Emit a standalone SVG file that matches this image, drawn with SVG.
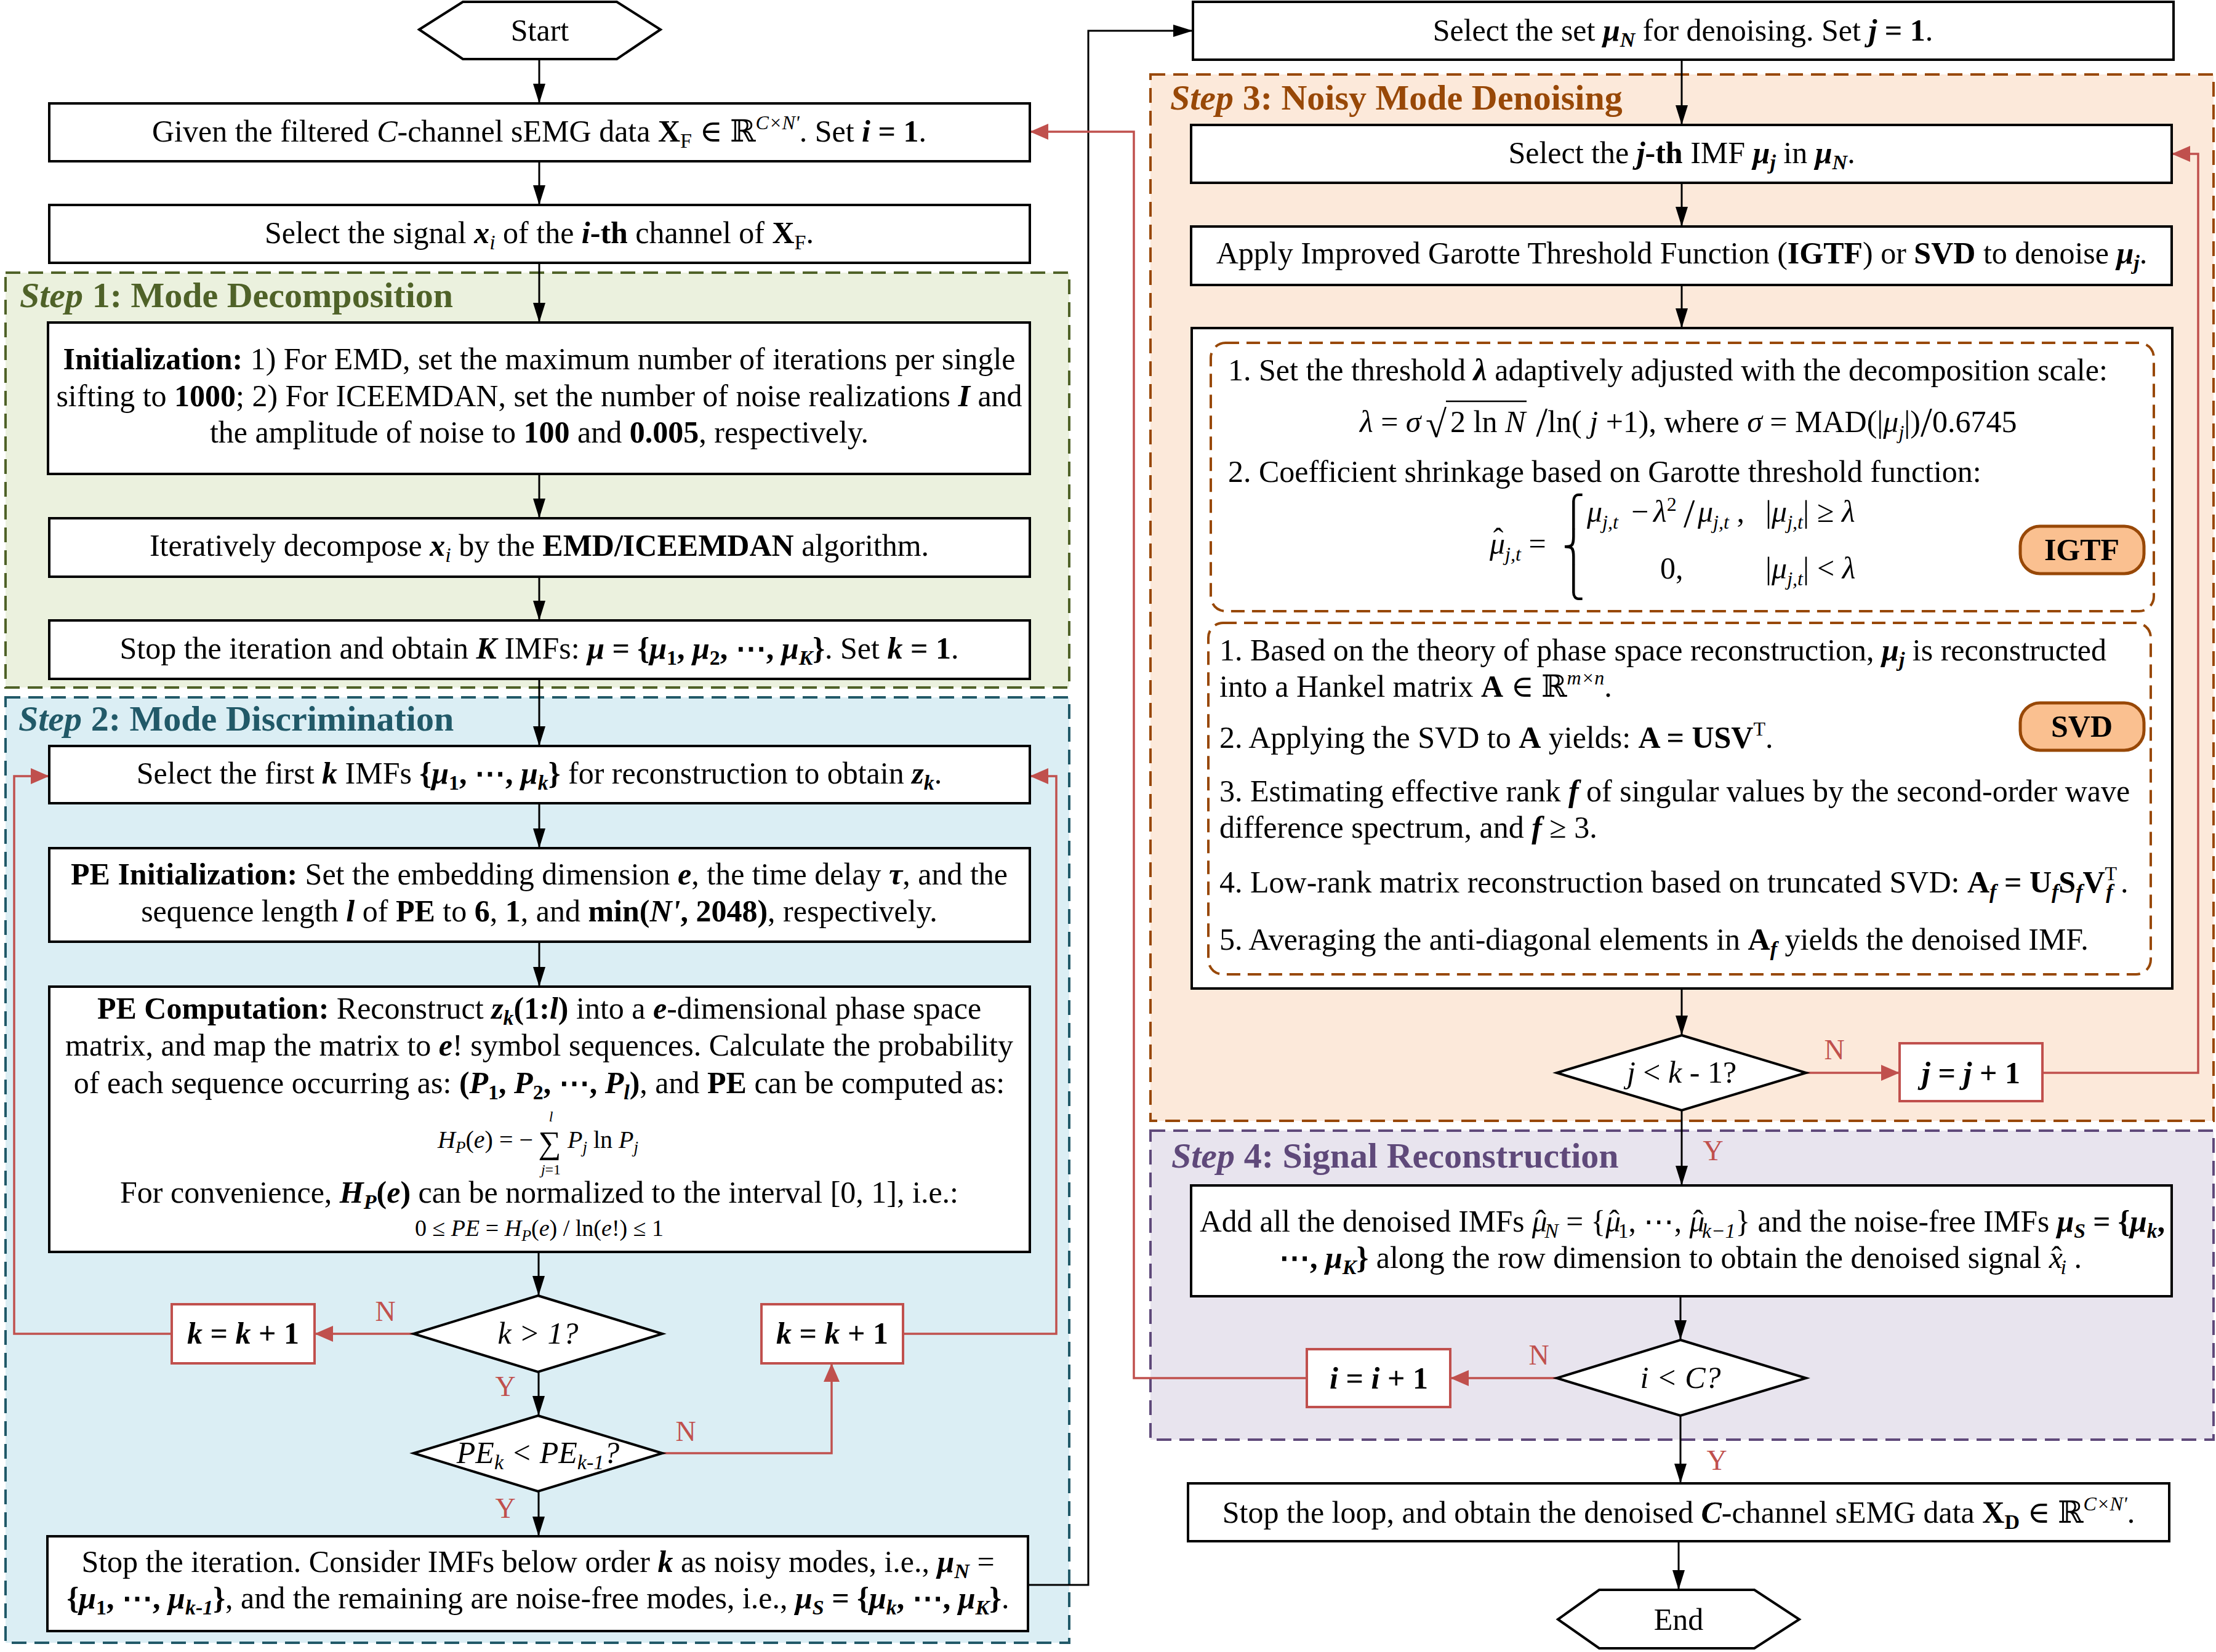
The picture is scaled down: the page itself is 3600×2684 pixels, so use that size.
<svg xmlns="http://www.w3.org/2000/svg" width="3600" height="2684" viewBox="0 0 3600 2684">
<defs>
<style>
.t{font-family:"Liberation Serif","Times New Roman","DejaVu Serif",serif;font-size:50px;fill:#000}
.m{text-anchor:middle}
.e{text-anchor:end}
.b{font-weight:bold}
.i{font-style:italic}
.sb{font-size:34px;baseline-shift:-10px}
.sp{font-size:32px;baseline-shift:20px}
.ms{font-size:32px;baseline-shift:-11px;font-style:italic}
.hd{font-size:58px;font-weight:bold}
.br{font-family:"DejaVu Sans",sans-serif;font-size:49px;fill:#000}
.box{fill:#fff;stroke:#000;stroke-width:4}
.rbox{fill:#fff;stroke:#C0504D;stroke-width:4}
.conn{fill:none;stroke:#000;stroke-width:3}
.rconn{fill:none;stroke:#C0504D;stroke-width:3.5}
.lab{font-size:46px;fill:#C0504D}
.dash{fill:#fff;stroke:#984807;stroke-width:4;stroke-dasharray:22 12}
.badge{fill:#FAC090;stroke:#984807;stroke-width:5}
</style>
<marker id="ab" markerUnits="userSpaceOnUse" markerWidth="34" markerHeight="22" refX="32" refY="10" orient="auto">
<path d="M0,0 L32,10 L0,20 z" fill="#000"/>
</marker>
<marker id="ar" markerUnits="userSpaceOnUse" markerWidth="32" markerHeight="28" refX="30" refY="13" orient="auto">
<path d="M0,0 L30,13 L0,26 z" fill="#C0504D"/>
</marker>
</defs>
<rect width="3600" height="2684" fill="#fff"/>

<g id="panels">
<g id="step1">
<rect x="9" y="443" width="1728" height="674" fill="#EBF1DE" stroke="#4F6228" stroke-width="4" stroke-dasharray="24 13"/>
<text class="t hd" x="32" y="499" style="fill:#4F6228"><tspan class="i">Step</tspan> 1: Mode Decomposition</text>
</g>
<g id="step2">
<rect x="9" y="1133" width="1728" height="1536" fill="#DBEEF4" stroke="#215968" stroke-width="4" stroke-dasharray="24 13"/>
<text class="t hd" x="30" y="1187" style="fill:#215968"><tspan class="i">Step</tspan> 2: Mode Discrimination</text>
</g>
<g id="step3">
<rect x="1869" y="121" width="1727" height="1700" fill="#FCE9DA" stroke="#984807" stroke-width="4" stroke-dasharray="24 13"/>
<text class="t hd" x="1901" y="178" style="fill:#984807"><tspan class="i">Step</tspan> 3: Noisy Mode Denoising</text>
</g>
<g id="step4">
<rect x="1869" y="1837" width="1727" height="502" fill="#E8E4EE" stroke="#5F497A" stroke-width="4" stroke-dasharray="24 13"/>
<text class="t hd" x="1903" y="1897" style="fill:#5F497A"><tspan class="i">Step</tspan> 4: Signal Reconstruction</text>
</g>
</g>

<g id="connectors">
<path class="conn" marker-end="url(#ab)" d="M876,96 V168"/>
<path class="conn" marker-end="url(#ab)" d="M876,262 V333"/>
<path class="conn" marker-end="url(#ab)" d="M876,427 V524"/>
<path class="conn" marker-end="url(#ab)" d="M876,770 V842"/>
<path class="conn" marker-end="url(#ab)" d="M876,937 V1008"/>
<path class="conn" marker-end="url(#ab)" d="M876,1103 V1212"/>
<path class="conn" marker-end="url(#ab)" d="M876,1305 V1378"/>
<path class="conn" marker-end="url(#ab)" d="M876,1530 V1603"/>
<path class="conn" marker-end="url(#ab)" d="M875,2034 V2105"/>
<path class="conn" marker-end="url(#ab)" d="M875,2229 V2300"/>
<path class="conn" marker-end="url(#ab)" d="M875,2423 V2496"/>
<path class="conn" stroke-width="4" marker-end="url(#ab)" d="M1670,2575 H1768 V50 H1938"/>
<path class="conn" marker-end="url(#ab)" d="M2732,97 V203"/>
<path class="conn" marker-end="url(#ab)" d="M2732,297 V368"/>
<path class="conn" marker-end="url(#ab)" d="M2732,463 V533"/>
<path class="conn" marker-end="url(#ab)" d="M2732,1606 V1682"/>
<path class="conn" marker-end="url(#ab)" d="M2732,1804 V1926"/>
<path class="conn" marker-end="url(#ab)" d="M2730,2106 V2177"/>
<path class="conn" marker-end="url(#ab)" d="M2730,2300 V2410"/>
<path class="conn" marker-end="url(#ab)" d="M2727,2504 V2583"/>
<path class="rconn" stroke-width="5" marker-end="url(#ar)" d="M672,2167 H511"/>
<path class="rconn" marker-end="url(#ar)" d="M279,2167 H23 V1261 H80"/>
<path class="rconn" marker-end="url(#ar)" d="M1467,2167 H1716 V1261 H1673"/>
<path class="rconn" marker-end="url(#ar)" d="M1076,2361 H1351 V2215"/>
<path class="rconn" marker-end="url(#ar)" d="M2934,1743 H3086"/>
<path class="rconn" marker-end="url(#ar)" d="M3318,1743 H3571 V250 H3528"/>
<path class="rconn" stroke-width="5" marker-end="url(#ar)" d="M2529,2239 H2356"/>
<path class="rconn" marker-end="url(#ar)" d="M2123,2239 H1842 V214 H1673"/>
<text class="t lab m" x="626" y="2146">N</text>
<text class="t lab m" x="821" y="2268">Y</text>
<text class="t lab m" x="1114" y="2341">N</text>
<text class="t lab m" x="821" y="2466">Y</text>
<text class="t lab m" x="2980" y="1721">N</text>
<text class="t lab m" x="2783" y="1885">Y</text>
<text class="t lab m" x="2500" y="2217">N</text>
<text class="t lab m" x="2789" y="2388">Y</text>
</g>

<g id="start">
<polygon class="box" points="681,48 752,3 1002,3 1073,48 1002,96 752,96"/>
<text class="t m" x="877" y="66">Start</text>
</g>
<g id="given">
<rect class="box" x="80" y="168" width="1593" height="94"/>
<text class="t m" x="876" y="230">Given the filtered <tspan class="i">C</tspan>-channel sEMG data <tspan class="b">X</tspan><tspan class="sb">F</tspan> ∈ ℝ<tspan class="sp i">C×N'</tspan>. Set <tspan class="b i">i</tspan><tspan class="b"> = 1</tspan>.</text>
</g>
<g id="selsig">
<rect class="box" x="80" y="333" width="1593" height="94"/>
<text class="t m" x="876" y="395">Select the signal <tspan class="b i">x</tspan><tspan class="sb i">i</tspan> of the <tspan class="b i">i</tspan><tspan class="b">-th</tspan> channel of <tspan class="b">X</tspan><tspan class="sb">F</tspan>.</text>
</g>
<g id="init">
<rect class="box" x="78" y="524" width="1595" height="246"/>
<text class="t m" x="876" y="600"><tspan class="b">Initialization:</tspan> 1) For EMD, set the maximum number of iterations per single</text>
<text class="t m" x="876" y="660">sifting to <tspan class="b">1000</tspan>; 2) For ICEEMDAN, set the number of noise realizations <tspan class="b i">I</tspan> and</text>
<text class="t m" x="876" y="719">the amplitude of noise to <tspan class="b">100</tspan> and <tspan class="b">0.005</tspan>, respectively.</text>
</g>
<g id="iter">
<rect class="box" x="80" y="842" width="1593" height="95"/>
<text class="t m" x="876" y="903">Iteratively decompose <tspan class="b i">x</tspan><tspan class="sb i">i</tspan> by the <tspan class="b">EMD/ICEEMDAN</tspan> algorithm.</text>
</g>
<g id="stopk">
<rect class="box" x="80" y="1008" width="1593" height="95"/>
<text class="t m" x="876" y="1070">Stop the iteration and obtain <tspan class="b i">K</tspan> IMFs: <tspan class="b i">μ</tspan><tspan class="b"> = {</tspan><tspan class="b i">μ</tspan><tspan class="sb b">1</tspan><tspan class="b">, </tspan><tspan class="b i">μ</tspan><tspan class="sb b">2</tspan><tspan class="b">, ⋯, </tspan><tspan class="b i">μ</tspan><tspan class="sb b i">K</tspan><tspan class="b">}</tspan>. Set <tspan class="b i">k</tspan><tspan class="b"> = 1</tspan>.</text>
</g>
<g id="selk">
<rect class="box" x="80" y="1212" width="1593" height="93"/>
<text class="t m" x="876" y="1273">Select the first <tspan class="b i">k</tspan> IMFs <tspan class="b">{</tspan><tspan class="b i">μ</tspan><tspan class="sb b">1</tspan><tspan class="b">, ⋯, </tspan><tspan class="b i">μ</tspan><tspan class="sb b i">k</tspan><tspan class="b">}</tspan> for reconstruction to obtain <tspan class="b i">z</tspan><tspan class="sb b i">k</tspan>.</text>
</g>
<g id="peinit">
<rect class="box" x="80" y="1378" width="1593" height="152"/>
<text class="t m" x="876" y="1437"><tspan class="b">PE Initialization:</tspan> Set the embedding dimension <tspan class="b i">e</tspan>, the time delay <tspan class="b i">τ</tspan>, and the</text>
<text class="t m" x="876" y="1497">sequence length <tspan class="b i">l</tspan> of <tspan class="b">PE</tspan> to <tspan class="b">6</tspan>, <tspan class="b">1</tspan>, and <tspan class="b">min(</tspan><tspan class="b i">N'</tspan><tspan class="b">, 2048)</tspan>, respectively.</text>
</g>
<g id="pecomp">
<rect class="box" x="80" y="1603" width="1593" height="431"/>
<text class="t m" x="876" y="1655"><tspan class="b">PE Computation:</tspan> Reconstruct <tspan class="b i">z</tspan><tspan class="sb b i">k</tspan><tspan class="b">(1:</tspan><tspan class="b i">l</tspan><tspan class="b">)</tspan> into a <tspan class="b i">e</tspan>-dimensional phase space</text>
<text class="t m" x="876" y="1715">matrix, and map the matrix to <tspan class="b i">e</tspan>! symbol sequences. Calculate the probability</text>
<text class="t m" x="876" y="1776">of each sequence occurring as: <tspan class="b">(</tspan><tspan class="b i">P</tspan><tspan class="sb b">1</tspan><tspan class="b">, </tspan><tspan class="b i">P</tspan><tspan class="sb b">2</tspan><tspan class="b">, ⋯, </tspan><tspan class="b i">P</tspan><tspan class="sb b i">l</tspan><tspan class="b">)</tspan>, and <tspan class="b">PE</tspan> can be computed as:</text>
<text class="t e" x="866" y="1865" style="font-size:40px"><tspan class="i">H</tspan><tspan class="i" style="font-size:27px;baseline-shift:-8px">P</tspan>(<tspan class="i">e</tspan>) = −</text>
<text class="t m" x="893" y="1874" style="font-size:52px">∑</text>
<text class="t m i" x="895" y="1822" style="font-size:24px">l</text>
<text class="t m" x="895" y="1908" style="font-size:24px"><tspan class="i">j</tspan>=1</text>
<text class="t" x="922" y="1865" style="font-size:40px"><tspan class="i">P</tspan><tspan class="i" style="font-size:27px;baseline-shift:-8px">j</tspan> ln <tspan class="i">P</tspan><tspan class="i" style="font-size:27px;baseline-shift:-8px">j</tspan></text>
<text class="t m" x="876" y="1954">For convenience, <tspan class="b i">H</tspan><tspan class="sb b i">P</tspan><tspan class="b">(</tspan><tspan class="b i">e</tspan><tspan class="b">)</tspan> can be normalized to the interval [0, 1], i.e.:</text>
<text class="t m" x="876" y="2008" style="font-size:38px">0 ≤ <tspan class="i">PE</tspan> = <tspan class="i">H</tspan><tspan class="i" style="font-size:26px;baseline-shift:-8px">P</tspan>(<tspan class="i">e</tspan>) / ln(<tspan class="i">e</tspan>!) ≤ 1</text>
</g>
<g id="dk1">
<polygon class="box" points="874,2105 1076,2167 874,2229 672,2167"/>
<text class="t m i" x="874" y="2183">k &gt; 1?</text>
</g>
<g id="kleft">
<rect class="rbox" x="279" y="2119" width="232" height="96"/>
<text class="t m b" x="395" y="2183"><tspan class="i">k</tspan> = <tspan class="i">k</tspan> + 1</text>
</g>
<g id="kright">
<rect class="rbox" x="1237" y="2119" width="230" height="96"/>
<text class="t m b" x="1352" y="2183"><tspan class="i">k</tspan> = <tspan class="i">k</tspan> + 1</text>
</g>
<g id="dpe">
<polygon class="box" points="874,2300 1076,2361 874,2423 672,2361"/>
<text class="t m i" x="874" y="2377">PE<tspan class="sb">k</tspan> &lt; PE<tspan class="sb">k-1</tspan>?</text>
</g>
<g id="stopit">
<rect class="box" x="77" y="2496" width="1593" height="154"/>
<text class="t m" x="874" y="2554">Stop the iteration. Consider IMFs below order <tspan class="b i">k</tspan> as noisy modes, i.e., <tspan class="b i">μ</tspan><tspan class="sb b i">N</tspan> =</text>
<text class="t m" x="874" y="2613"><tspan class="b">{</tspan><tspan class="b i">μ</tspan><tspan class="sb b">1</tspan><tspan class="b">, ⋯, </tspan><tspan class="b i">μ</tspan><tspan class="sb b i">k-1</tspan><tspan class="b">}</tspan>, and the remaining are noise-free modes, i.e., <tspan class="b i">μ</tspan><tspan class="sb b i">S</tspan><tspan class="b"> = {</tspan><tspan class="b i">μ</tspan><tspan class="sb b i">k</tspan><tspan class="b">, ⋯, </tspan><tspan class="b i">μ</tspan><tspan class="sb b i">K</tspan><tspan class="b">}</tspan>.</text>
</g>

<g id="selset">
<rect class="box" x="1938" y="3" width="1593" height="94"/>
<text class="t m" x="2734" y="66">Select the set <tspan class="b i">μ</tspan><tspan class="sb b i">N</tspan> for denoising. Set <tspan class="b i">j</tspan><tspan class="b"> = 1</tspan>.</text>
</g>
<g id="jth">
<rect class="box" x="1935" y="203" width="1593" height="94"/>
<text class="t m" x="2732" y="265">Select the <tspan class="b i">j</tspan><tspan class="b">-th</tspan> IMF <tspan class="b i">μ</tspan><tspan class="sb b i">j</tspan> in <tspan class="b i">μ</tspan><tspan class="sb b i">N</tspan>.</text>
</g>
<g id="apply">
<rect class="box" x="1935" y="368" width="1593" height="95"/>
<text class="t m" x="2732" y="428">Apply Improved Garotte Threshold Function (<tspan class="b">IGTF</tspan>) or <tspan class="b">SVD</tspan> to denoise <tspan class="b i">μ</tspan><tspan class="sb b i">j</tspan>.</text>
</g>
<g id="methods">
<rect class="box" x="1936" y="533" width="1593" height="1073"/>
<g id="igtf">
<rect class="dash" x="1967" y="557" width="1532" height="436" rx="24"/>
<text class="t" x="1995" y="618">1. Set the threshold <tspan class="b i">λ</tspan> adaptively adjusted with the decomposition scale:</text>
<text class="t" x="2209" y="702"><tspan class="i">λ</tspan> = <tspan class="i">σ</tspan></text>
<text class="t" x="2316" y="710" style="font-size:62px">√</text>
<line x1="2349" y1="652" x2="2480" y2="652" stroke="#000" stroke-width="2.5"/>
<text class="t" x="2356" y="702">2 ln <tspan class="i">N</tspan><tspan style="font-size:68px;baseline-shift:-6px"> /</tspan>ln( <tspan class="i">j</tspan> +1), where <tspan class="i">σ</tspan> = MAD(|<tspan class="i">μ</tspan><tspan class="ms">j</tspan>|)<tspan style="font-size:68px;baseline-shift:-6px">/</tspan>0.6745</text>
<text class="t" x="2420" y="900"><tspan class="i">μ</tspan><tspan class="ms">j,t</tspan> =</text>
<text class="t m" x="2434" y="893">ˆ</text>
<text class="t" x="1995" y="783">2. Coefficient shrinkage based on Garotte threshold function:</text>
<text class="br" x="2538" y="847">⎧</text>
<text class="br" x="2538" y="905">⎨</text>
<text class="br" x="2538" y="963">⎩</text>
<text class="t" x="2578" y="848"><tspan class="i">μ</tspan><tspan class="ms">j,t</tspan></text>
<text class="t" x="2650" y="848">−</text>
<text class="t" x="2686" y="848"><tspan class="i">λ</tspan><tspan style="font-size:32px;baseline-shift:18px">2</tspan></text>
<text class="t" x="2735" y="856" style="font-size:66px">/</text>
<text class="t" x="2758" y="848"><tspan class="i">μ</tspan><tspan class="ms">j,t</tspan> ,</text>
<text class="t" x="2868" y="848">|<tspan class="i">μ</tspan><tspan class="ms">j,t</tspan>|</text>
<text class="t" x="2952" y="848">≥ <tspan class="i">λ</tspan></text>
<text class="t" x="2697" y="940">0,</text>
<text class="t" x="2868" y="940">|<tspan class="i">μ</tspan><tspan class="ms">j,t</tspan>|</text>
<text class="t" x="2952" y="940">&lt; <tspan class="i">λ</tspan></text>
<rect class="badge" x="3282" y="855" width="201" height="77" rx="32"/>
<text class="t m b" x="3382" y="910">IGTF</text>
</g>
<g id="svd">
<rect class="dash" x="1963" y="1012" width="1531" height="571" rx="24"/>
<text class="t" x="1981" y="1073">1. Based on the theory of phase space reconstruction, <tspan class="b i">μ</tspan><tspan class="sb b i">j</tspan> is reconstructed</text>
<text class="t" x="1981" y="1132">into a Hankel matrix <tspan class="b">A</tspan> ∈ ℝ<tspan class="sp i">m×n</tspan>.</text>
<text class="t" x="1981" y="1215">2. Applying the SVD to <tspan class="b">A</tspan> yields: <tspan class="b">A = USV</tspan><tspan class="sp">T</tspan>.</text>
<text class="t" x="1981" y="1302">3. Estimating effective rank <tspan class="b i">f</tspan> of singular values by the second-order wave</text>
<text class="t" x="1981" y="1361">difference spectrum, and <tspan class="b i">f</tspan> ≥ 3.</text>
<text class="t" x="1981" y="1450">4. Low-rank matrix reconstruction based on truncated SVD: <tspan class="b">A</tspan><tspan class="sb b i">f</tspan><tspan class="b"> = U</tspan><tspan class="sb b i">f</tspan><tspan class="b">S</tspan><tspan class="sb b i">f</tspan><tspan class="b">V</tspan><tspan class="sp">T</tspan><tspan class="sb b i" dx="-18">f</tspan> .</text>
<text class="t" x="1981" y="1543">5. Averaging the anti-diagonal elements in <tspan class="b">A</tspan><tspan class="sb b i">f</tspan> yields the denoised IMF.</text>
<rect class="badge" x="3282" y="1142" width="201" height="77" rx="32"/>
<text class="t m b" x="3382" y="1197">SVD</text>
</g>
</g>
<g id="djk">
<polygon class="box" points="2732,1682 2934,1743 2732,1804 2529,1743"/>
<text class="t m" x="2732" y="1759"><tspan class="i">j</tspan> &lt; <tspan class="i">k</tspan> - 1?</text>
</g>
<g id="jinc">
<rect class="rbox" x="3086" y="1695" width="232" height="94"/>
<text class="t m b" x="3202" y="1760"><tspan class="i">j</tspan> = <tspan class="i">j</tspan> + 1</text>
</g>
<g id="addall">
<rect class="box" x="1935" y="1926" width="1593" height="180"/>
<text class="t" x="1949" y="2001" textLength="1568" lengthAdjust="spacingAndGlyphs">Add all the denoised IMFs <tspan class="i">μ</tspan><tspan dx="-19">ˆ</tspan><tspan class="sb i" dx="-2">N</tspan> = {<tspan class="i">μ</tspan><tspan dx="-19">ˆ</tspan><tspan class="sb" dx="-2">1</tspan>,  ⋯, <tspan class="i">μ</tspan><tspan dx="-19">ˆ</tspan><tspan class="sb i" dx="-2">k−1</tspan>} and the noise-free IMFs <tspan class="b i">μ</tspan><tspan class="sb b i">S</tspan><tspan class="b"> = {</tspan><tspan class="b i">μ</tspan><tspan class="sb b i">k</tspan><tspan class="b">,</tspan></text>
<text class="t m" x="2730" y="2060"><tspan class="b">⋯, </tspan><tspan class="b i">μ</tspan><tspan class="sb b i">K</tspan><tspan class="b">}</tspan> along the row dimension to obtain the denoised signal <tspan class="i">x</tspan><tspan dx="-18">ˆ</tspan><tspan class="sb i" dx="-2">i</tspan> .</text>
</g>
<g id="dic">
<polygon class="box" points="2730,2177 2934,2239 2730,2300 2529,2239"/>
<text class="t m i" x="2730" y="2255">i &lt; C?</text>
</g>
<g id="iinc">
<rect class="rbox" x="2123" y="2192" width="233" height="94"/>
<text class="t m b" x="2240" y="2256"><tspan class="i">i</tspan> = <tspan class="i">i</tspan> + 1</text>
</g>
<g id="stoploop">
<rect class="box" x="1930" y="2410" width="1594" height="94"/>
<text class="t m" x="2727" y="2474">Stop the loop, and obtain the denoised <tspan class="b i">C</tspan>-channel sEMG data <tspan class="b">X</tspan><tspan class="sb b">D</tspan> ∈ ℝ<tspan class="sp i">C×N'</tspan>.</text>
</g>
<g id="end">
<polygon class="box" points="2531,2631 2598,2583 2850,2583 2923,2631 2850,2678 2598,2678"/>
<text class="t m" x="2727" y="2648">End</text>
</g>
</svg>
